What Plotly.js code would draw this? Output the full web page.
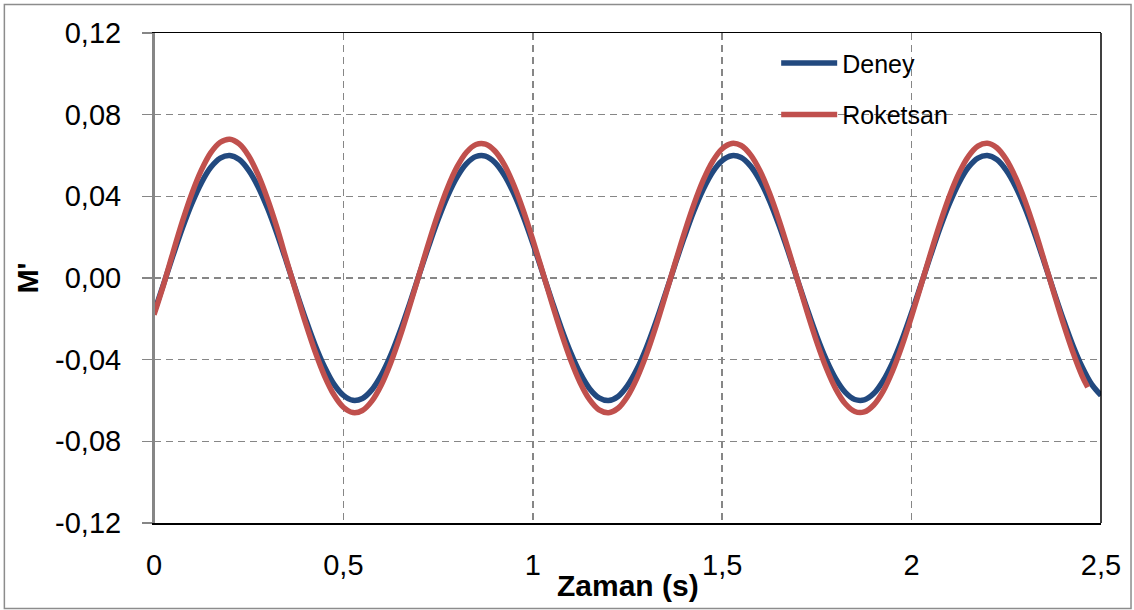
<!DOCTYPE html>
<html>
<head>
<meta charset="utf-8">
<script src="https://cdn.plot.ly/plotly-3.0.1.min.js"></script>
<style>html,body{margin:0;padding:0;background:#fff;}#chart{width:1134px;height:610px;}</style>
</head>
<body>
<div id="chart"></div>
<script>
// Time axis (s)
var zaman = [0,0.025,0.05,0.075,0.1,0.125,0.15,0.175,0.2,0.225,0.25,0.275,0.3,0.325,0.35,0.375,0.4,0.425,0.45,0.475,
0.5,0.525,0.55,0.575,0.6,0.625,0.65,0.675,0.7,0.725,0.75,0.775,0.8,0.825,0.85,0.875,0.9,0.925,0.95,0.975,
1,1.025,1.05,1.075,1.1,1.125,1.15,1.175,1.2,1.225,1.25,1.275,1.3,1.325,1.35,1.375,1.4,1.425,1.45,1.475,
1.5,1.525,1.55,1.575,1.6,1.625,1.65,1.675,1.7,1.725,1.75,1.775,1.8,1.825,1.85,1.875,1.9,1.925,1.95,1.975,
2,2.025,2.05,2.075,2.1,2.125,2.15,2.175,2.2,2.225,2.25,2.275,2.3,2.325,2.35,2.375,2.4,2.425,2.45,2.475,2.5];

var deney = [-0.0170,-0.0031,0.0109,0.0244,0.0365,0.0466,0.0542,0.0587,0.0600,0.0580,0.0527,0.0446,0.0340,0.0215,0.0078,-0.0063,-0.0200,-0.0327,-0.0435,-0.0520,
-0.0575,-0.0599,-0.0590,-0.0548,-0.0476,-0.0378,-0.0258,-0.0125,0.0016,0.0155,0.0286,0.0401,0.0494,0.0560,0.0595,0.0597,0.0566,0.0503,0.0413,0.0300,
0.0170,0.0031,-0.0109,-0.0244,-0.0365,-0.0466,-0.0542,-0.0587,-0.0600,-0.0580,-0.0527,-0.0446,-0.0340,-0.0215,-0.0078,0.0063,0.0200,0.0327,0.0435,0.0520,
0.0575,0.0599,0.0590,0.0548,0.0476,0.0378,0.0258,0.0125,-0.0016,-0.0155,-0.0286,-0.0401,-0.0494,-0.0560,-0.0595,-0.0597,-0.0566,-0.0503,-0.0413,-0.0300,
-0.0170,-0.0031,0.0109,0.0244,0.0365,0.0466,0.0542,0.0587,0.0600,0.0580,0.0527,0.0446,0.0340,0.0215,0.0078,-0.0063,-0.0200,-0.0327,-0.0435,-0.0520,-0.0575];

var zamanRoketsan = [0,0.025,0.05,0.075,0.1,0.125,0.15,0.175,0.2,0.225,0.25,0.275,0.3,0.325,0.35,0.375,0.4,0.425,0.45,0.475,
0.5,0.525,0.55,0.575,0.6,0.625,0.65,0.675,0.7,0.725,0.75,0.775,0.8,0.825,0.85,0.875,0.9,0.925,0.95,0.975,
1,1.025,1.05,1.075,1.1,1.125,1.15,1.175,1.2,1.225,1.25,1.275,1.3,1.325,1.35,1.375,1.4,1.425,1.45,1.475,
1.5,1.525,1.55,1.575,1.6,1.625,1.65,1.675,1.7,1.725,1.75,1.775,1.8,1.825,1.85,1.875,1.9,1.925,1.95,1.975,
2,2.025,2.05,2.075,2.1,2.125,2.15,2.175,2.2,2.225,2.25,2.275,2.3,2.325,2.35,2.375,2.4,2.425,2.45,2.465];

var roketsan = [-0.0180,-0.0035,0.0124,0.0277,0.0414,0.0528,0.0614,0.0665,0.0680,0.0657,0.0598,0.0505,0.0385,0.0244,0.0086,-0.0069,-0.0220,-0.0359,-0.0479,-0.0572,
-0.0633,-0.0659,-0.0649,-0.0603,-0.0524,-0.0415,-0.0284,-0.0137,0.0017,0.0171,0.0315,0.0442,0.0544,0.0616,0.0654,0.0656,0.0622,0.0554,0.0454,0.0330,
0.0187,0.0035,-0.0120,-0.0268,-0.0402,-0.0513,-0.0596,-0.0646,-0.0660,-0.0638,-0.0580,-0.0490,-0.0374,-0.0237,-0.0086,0.0069,0.0220,0.0359,0.0479,0.0572,
0.0633,0.0659,0.0649,0.0603,0.0524,0.0415,0.0284,0.0137,-0.0017,-0.0171,-0.0315,-0.0442,-0.0544,-0.0616,-0.0654,-0.0656,-0.0622,-0.0554,-0.0454,-0.0330,
-0.0187,-0.0035,0.0120,0.0268,0.0402,0.0513,0.0596,0.0646,0.0660,0.0638,0.0580,0.0490,0.0374,0.0237,0.0086,-0.0069,-0.0220,-0.0359,-0.0479,-0.0535];

var xTickVals = [0,0.5,1,1.5,2,2.5];
var xTickText = ["0","0,5","1","1,5","2","2,5"];
var yTickVals = [-0.12,-0.08,-0.04,0,0.04,0.08,0.12];
var yTickText = ["-0,12","-0,08","-0,04","0,00","0,04","0,08","0,12"];
var xTitle = "Zaman (s)";
var yTitle = "M'";

var FONT = "Liberation Sans, Arial, sans-serif";
var GRID = "#868686";

var traces = [
  {x: zaman, y: deney, name: "Deney", type: "scatter", mode: "lines",
   line: {color: "#22497F", width: 5.5, shape: "spline"}, legendgroup: "a"},
  {x: zamanRoketsan, y: roketsan, name: "Roketsan", type: "scatter", mode: "lines",
   line: {color: "#C0504D", width: 5.5, shape: "spline"}, legendgroup: "b"}
];

var layout = {
  width: 1134, height: 610,
  margin: {l: 154, r: 33, t: 33, b: 87},
  paper_bgcolor: "#ffffff", plot_bgcolor: "#ffffff",
  font: {family: FONT, color: "#000", size: 29},
  showlegend: true,
  legend: {x: 0.657, y: 0.985, xanchor: "left", yanchor: "top",
           font: {family: FONT, size: 25, color: "#000"},
           bgcolor: "rgba(0,0,0,0)", traceorder: "grouped", tracegroupgap: 16, itemwidth: 56},
  xaxis: {range: [0, 2.5], tickmode: "array", tickvals: xTickVals, ticktext: xTickText,
          showgrid: true, gridcolor: GRID, gridwidth: 1.5, griddash: "7px,5px",
          zeroline: false, showline: true, linecolor: "#000", linewidth: 1.5, mirror: true,
          ticks: "", ticklabelstandoff: 16,
          tickfont: {family: FONT, size: 29, color: "#000"}},
  yaxis: {range: [-0.12, 0.12], tickmode: "array", tickvals: yTickVals, ticktext: yTickText,
          showgrid: true, gridcolor: GRID, gridwidth: 1.5, griddash: "7px,5px",
          zeroline: false, showline: true, linecolor: GRID, linewidth: 2,
          ticks: "outside", ticklen: 10, tickcolor: GRID, tickwidth: 1.5, ticklabelstandoff: 15,
          tickfont: {family: FONT, size: 29, color: "#000"},
          title: {text: "<b>" + yTitle + "</b>", font: {family: FONT, size: 29, color: "#000"}, standoff: 8}},
  annotations: [
    {text: "<b>" + xTitle + "</b>", xref: "paper", yref: "paper", x: 0.5, y: -0.127,
     xanchor: "center", yanchor: "middle", showarrow: false,
     font: {family: FONT, size: 30, color: "#000"}}
  ],
  shapes: [
    {type: "line", xref: "paper", yref: "paper", x0: 1, x1: 1, y0: 0, y1: 1, line: {color: "#000", width: 1.5}},
    {type: "line", xref: "paper", yref: "paper", x0: 0, x1: 0, y0: 0, y1: 1, line: {color: GRID, width: 2}},
    {type: "rect", xref: "paper", yref: "paper", x0: -0.158, x1: 1.0317, y0: -0.1745, y1: 1.0582,
     line: {color: "#8c8c8c", width: 1.5}, fillcolor: "rgba(0,0,0,0)", layer: "below"}
  ]
};

Plotly.newPlot("chart", traces, layout, {displayModeBar: false, staticPlot: true});
</script>
</body>
</html>
